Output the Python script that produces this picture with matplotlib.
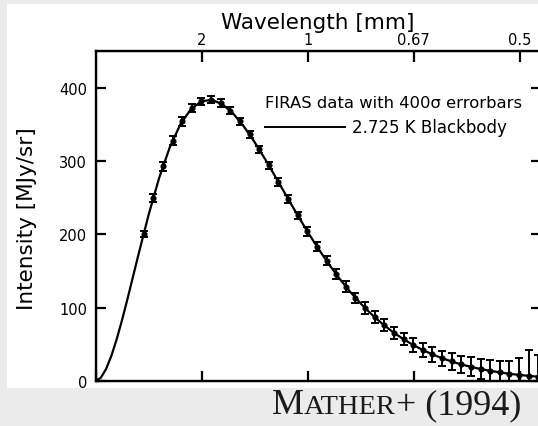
import matplotlib
matplotlib.use("Agg")
import matplotlib.pyplot as plt
from matplotlib.lines import Line2D
from matplotlib.patches import Rectangle

# ---- data (frequency in cm^-1, intensity in MJy/sr) ----
firas_freq = [2.27, 2.72, 3.18, 3.63, 4.08, 4.54, 4.99, 5.45, 5.90, 6.35, 6.81,
              7.26, 7.71, 8.17, 8.62, 9.08, 9.53, 9.98, 10.44, 10.89, 11.34,
              11.80, 12.25, 12.71, 13.16, 13.61, 14.07, 14.52, 14.97, 15.43,
              15.88, 16.34, 16.79, 17.24, 17.70, 18.15, 18.61, 19.06, 19.51,
              19.97, 20.42, 20.87, 21.33]
firas_int = [200.7, 249.5, 293.0, 327.8, 354.1, 372.1, 381.5, 383.5, 378.9,
             368.8, 354.1, 336.3, 316.1, 293.9, 271.4, 248.2, 225.9, 204.3,
             183.3, 163.8, 145.8, 128.8, 113.6, 99.5, 87.0, 75.9, 65.8, 57.0,
             49.2, 42.3, 36.4, 31.1, 26.6, 22.6, 19.3, 16.4, 13.8, 11.7, 9.9,
             8.4, 7.1, 5.8, 4.5]
firas_err = [4, 5, 6, 6, 6, 5, 5, 5, 5, 5, 5, 5, 5, 5, 5, 5, 5, 6, 6, 6, 7,
             7, 7, 8, 8, 8, 8, 8, 9, 9, 10, 10, 11, 12, 13, 14, 15, 16, 17,
             23, 35, 30, 40]

bb_freq = [0.0, 0.25, 0.5, 0.75, 1.0, 1.25, 1.5, 1.75, 2.0, 2.5, 3.0, 3.5,
           4.0, 4.5, 5.0, 5.5, 6.0, 6.5, 7.0, 7.5, 8.0, 8.5, 9.0, 9.5, 10.0,
           10.5, 11.0, 11.5, 12.0, 12.5, 13.0, 13.5, 14.0, 14.5, 15.0, 15.5,
           16.0, 16.5, 17.0, 17.5, 18.0, 18.5, 19.0, 19.5, 20.0, 20.5, 21.0]
bb_int = [0.0, 4.4, 16.4, 34.5, 57.1, 83.0, 111.0, 140.2, 169.5, 226.3, 276.9,
          318.6, 350.0, 370.8, 381.6, 383.3, 377.0, 364.4, 346.8, 325.7, 302.3,
          277.5, 252.3, 227.4, 203.3, 180.6, 159.3, 139.7, 121.8, 105.7, 91.3,
          78.5, 67.2, 57.3, 48.7, 41.3, 34.9, 29.4, 24.7, 20.7, 17.3, 14.4,
          12.0, 9.9, 8.2, 6.8, 5.6]

bottom_ticks = [0, 5, 10, 15, 20]
y_ticks = [0, 100, 200, 300, 400]
top_tick_pos = [5, 10, 15, 20]
top_tick_labels = ["2", "1", "0.67", "0.5"]

W, H = 538, 427
fig = plt.figure(figsize=(W / 100, H / 100), dpi=100)
fig.patch.set_facecolor("#ebebeb")
fig.patches.append(Rectangle((7 / W, 1 - 389 / H), (W - 7) / W, (389 - 5) / H,
                             transform=fig.transFigure, facecolor="white",
                             edgecolor="none", zorder=-5))

left, right, top, bottom = 95.5, 541.0, 52.0, 382.0
ax = fig.add_axes([left / W, 1 - bottom / H, (right - left) / W, (bottom - top) / H])
ax.set_facecolor("none")

sans = "DejaVu Sans"
ax.plot(bb_freq, bb_int, color="black", lw=1.6, zorder=3)
ax.errorbar(firas_freq, firas_int, yerr=firas_err, fmt="o", color="black",
            ms=3.4, elinewidth=1.4, capsize=2.6, capthick=1.4, zorder=4)

ax.set_xlim(0, 21)
ax.set_ylim(0, 450)
ax.set_xticks(bottom_ticks)
ax.set_xticklabels([])
ax.set_yticks(y_ticks)
ax.tick_params(direction="in", length=7, width=1.6, right=True, top=False,
               labelsize=10.5, pad=6)
for lab in ax.get_yticklabels():
    lab.set_fontfamily(sans)
for s in ax.spines.values():
    s.set_linewidth(1.7)

ax2 = ax.twiny()
ax2.set_xlim(ax.get_xlim())
ax2.set_xticks(top_tick_pos)
ax2.set_xticklabels(top_tick_labels, fontfamily=sans, fontsize=10.5)
ax2.tick_params(direction="in", length=8, width=1.6, pad=3)
ax2.set_xlabel("Wavelength [mm]", fontfamily=sans, fontsize=15.5, labelpad=3)
ax.set_ylabel("Intensity [MJy/sr]", fontfamily=sans, fontsize=15.5)
ax.yaxis.set_label_coords(-0.131, 0.495)

# legend-like annotation
def ax_x(px):
    return (px - left) / (right - left)

def ax_y(py):
    return (bottom - py) / (bottom - top)

ax.text(ax_x(265), ax_y(103), "FIRAS data with 400σ errorbars", transform=ax.transAxes,
        fontfamily=sans, fontsize=11.8, va="center", ha="left")
ax.add_line(Line2D([ax_x(265), ax_x(345)], [ax_y(128), ax_y(128)], transform=ax.transAxes,
                   color="black", lw=1.4))
ax.text(ax_x(352), ax_y(128), "2.725 K Blackbody", transform=ax.transAxes,
        fontfamily=sans, fontsize=12, va="center", ha="left")

# citation in small caps
serif = "Liberation Serif"
pieces = [("M", 26), ("ATHER", 20.5), ("+ (1994)", 26)]
renderer = fig.canvas.get_renderer()
x = 272 / W
yb = 1 - 414 / H
for txt, fs in pieces:
    t = fig.text(x, yb, txt, fontfamily=serif, fontsize=fs, color="#1a1a1a",
                 va="baseline", ha="left")
    bb = t.get_window_extent(renderer)
    x += bb.width / W

fig.savefig("out.png", dpi=100)
